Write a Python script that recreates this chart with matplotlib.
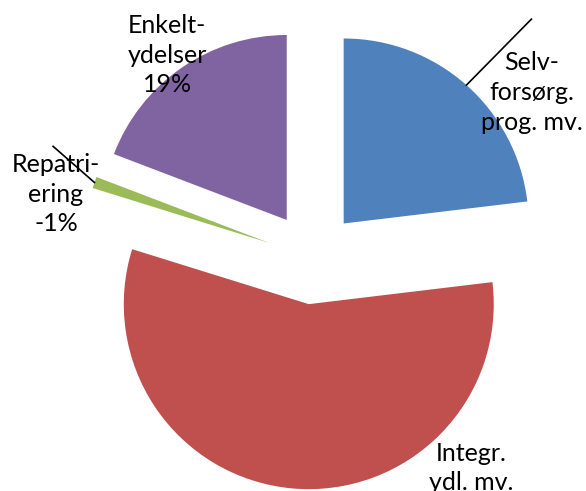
import matplotlib
matplotlib.use("Agg")
import matplotlib.pyplot as plt
import numpy as np

names = ["Selv-\nforsørg.\nprog. mv.", "Integr.\nydl. mv.", "Repatri-\nering\n-1%", "Enkelt-\nydelser\n19%"]
shares = [23.1, 56.7, 1.0, 19.2]
colors = ["#4F81BD", "#C0504D", "#9BBB59", "#8064A2"]

plt.rcParams['font.family'] = ['Lato', 'DejaVu Sans']

fig = plt.figure(figsize=(5.86, 4.91), dpi=100)
ax = fig.add_axes([0, 0, 1, 1])
exp = 0.25
wedges, _ = ax.pie(shares, colors=colors, explode=[exp] * 4, startangle=90,
                   counterclock=False, radius=1.0)
ax.set_xlim(-1.692, 1.476)
ax.set_ylim(-1.259, 1.395)
ax.set_aspect('auto')
ax.axis('off')

# label positions (data units)
label_pos = [(1.184, 0.895), (0.854, -1.135), (-1.389, 0.346), (-0.789, 1.097)]
for name, (x, y) in zip(names, label_pos):
    ax.text(x, y, name, ha='center', va='center', fontsize=18, linespacing=1.35)

# leader lines for blue and green wedges
for i, r_end, d_ang in [(0, 1.5, -1.0), (2, 1.28, -5.0)]:
    w = wedges[i]
    mid = np.deg2rad((w.theta1 + w.theta2) / 2)
    cx, cy = w.center
    a2 = mid + np.deg2rad(d_ang)
    ax.plot([cx + np.cos(mid), cx + r_end * np.cos(a2)],
            [cy + np.sin(mid), cy + r_end * np.sin(a2)], color='black', lw=1.2)

fig.savefig("out.png", dpi=100)
